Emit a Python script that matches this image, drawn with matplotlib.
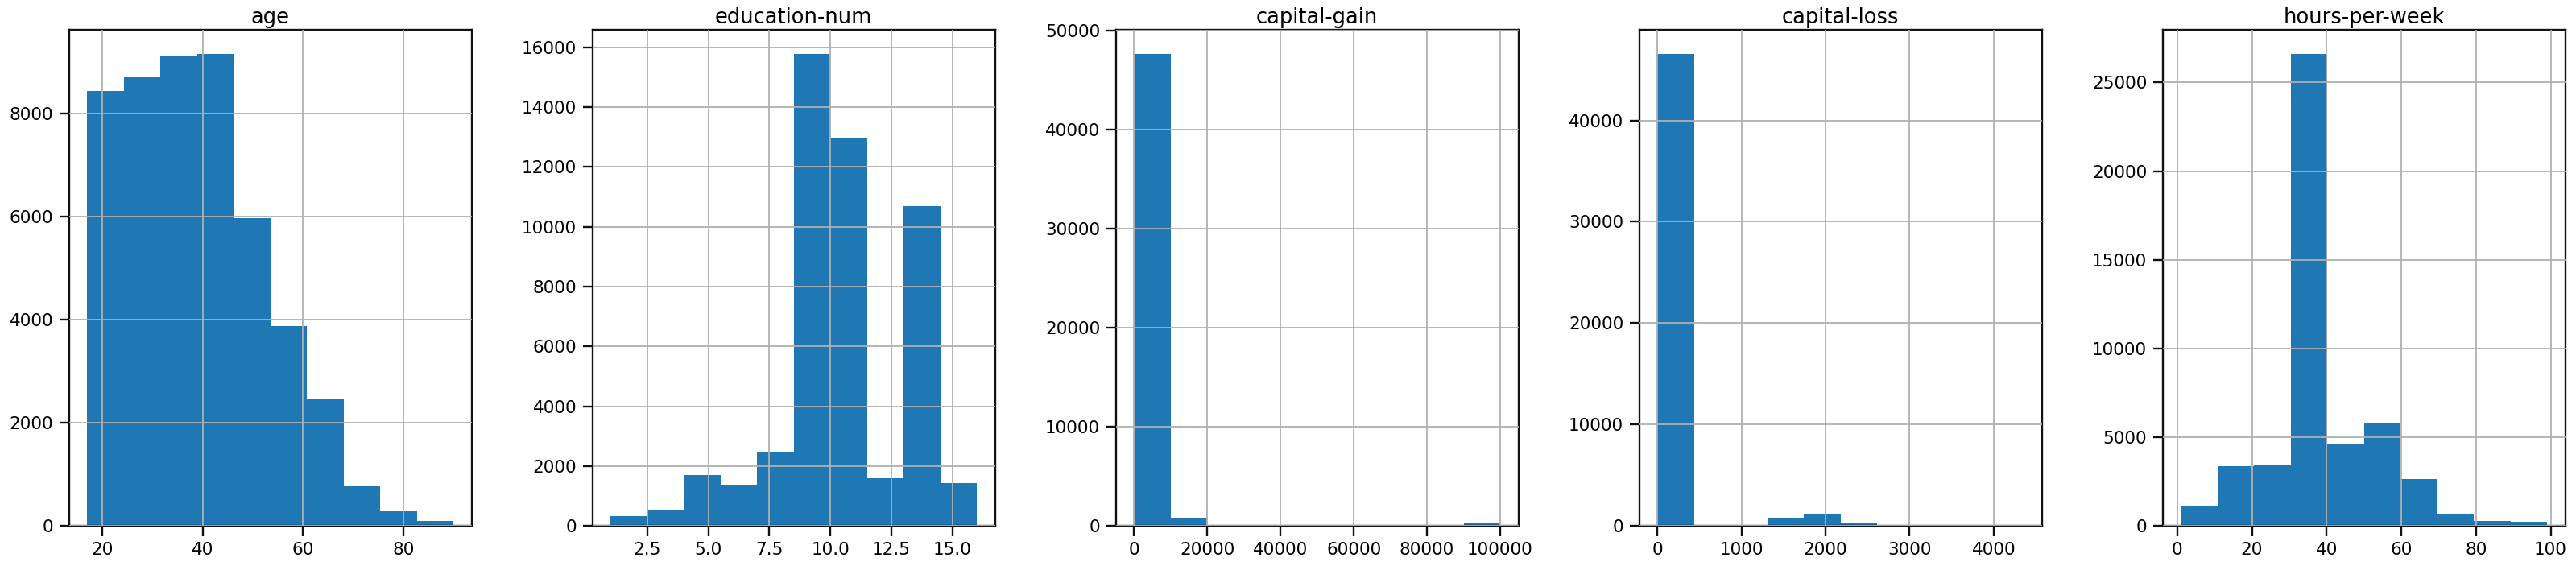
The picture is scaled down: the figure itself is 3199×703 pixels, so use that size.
import numpy as np
import matplotlib
matplotlib.use("Agg")
import matplotlib.pyplot as plt

# ---- data (histogram counts, 10 bins each) ----
titles = ["age", "education-num", "capital-gain", "capital-loss", "hours-per-week"]
ranges = [(17, 90), (1, 16), (0, 99999), (0, 4356), (1, 99)]
age_counts = [8434, 8692, 9119, 9154, 5972, 3881, 2462, 776, 280, 105]
edu_counts = [330, 509, 1711, 1389, 2469, 15784, 12939, 1601, 10682, 1428]
gain_counts = [47700, 800, 130, 6, 3, 0, 0, 0, 0, 244]
loss_counts = [46584, 15, 15, 712, 1210, 285, 5, 12, 4, 8]
hours_counts = [1119, 3356, 3397, 26627, 4658, 5838, 2665, 671, 305, 224]
all_counts = [age_counts, edu_counts, gain_counts, loss_counts, hours_counts]

W, H = 3199, 703
fig = plt.figure(figsize=(W / 100, H / 100), dpi=100)

left0 = 85.7 / W
pitch = 650 / W
aw = 500 / W
bottom = (H - 653.3) / H
ah = (653.3 - 37.3) / H

for i, (title, (lo, hi), counts) in enumerate(zip(titles, ranges, all_counts)):
    ax = fig.add_axes([left0 + i * pitch, bottom, aw, ah])
    edges = np.linspace(lo, hi, len(counts) + 1)
    centers = (edges[:-1] + edges[1:]) / 2
    ax.hist(centers, bins=edges, weights=counts, color="#1f77b4")
    ax.set_axisbelow(False)
    ax.grid(True, color="#b0b0b0", linewidth=1.3)
    ax.set_title(title, fontsize=18.5, pad=6)
    for s in ax.spines.values():
        s.set_linewidth(1.7)
        s.set_color("#111111")
    ax.tick_params(axis="both", which="major", labelsize=15.5, length=9,
                   width=1.7, direction="out", pad=5, color="#111111")

fig.savefig("out.png", dpi=100)
